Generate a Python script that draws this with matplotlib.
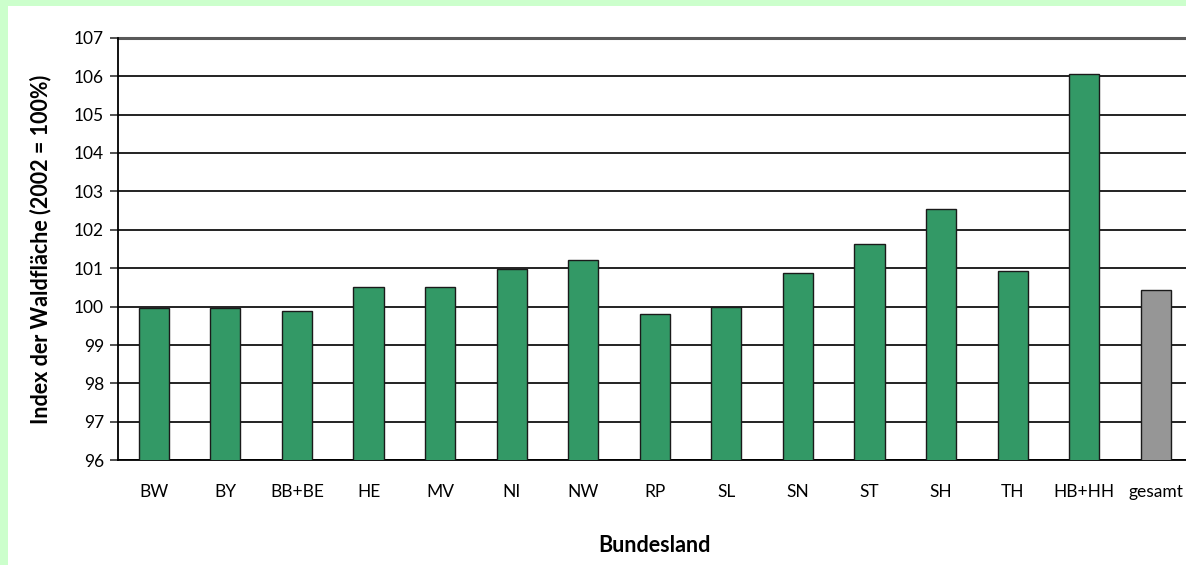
import matplotlib
matplotlib.use("Agg")
import matplotlib.pyplot as plt
from matplotlib.patches import Rectangle

categories = ["BW", "BY", "BB+BE", "HE", "MV", "NI", "NW", "RP", "SL",
              "SN", "ST", "SH", "TH", "HB+HH", "gesamt"]
values = [99.96, 99.96, 99.89, 100.52, 100.52, 100.99, 101.22, 99.82, 100.0,
          100.88, 101.62, 102.53, 100.92, 106.05, 100.43]
yticks = [96, 97, 98, 99, 100, 101, 102, 103, 104, 105, 106, 107]

plt.rcParams['font.family'] = ['Lato', 'DejaVu Sans']

fig = plt.figure(figsize=(11.86, 5.65), dpi=100)
fig.patch.set_facecolor("white")
green_bg = "#CCFFCC"
fig.patches.append(Rectangle((0, 1 - 6/565), 1, 6/565, transform=fig.transFigure,
                             facecolor=green_bg, edgecolor="none", zorder=0))
fig.patches.append(Rectangle((0, 0), 8/1186, 1, transform=fig.transFigure,
                             facecolor=green_bg, edgecolor="none", zorder=0))

ax = fig.add_axes([118/1186, 1 - 460.3/565, (1191.6 - 118)/1186, (460.3 - 37.7)/565])

colors = ["#339966"] * (len(categories) - 1) + ["#969696"]
x = list(range(len(categories)))
ax.bar(x, values, width=0.42, bottom=0, color=colors, edgecolor="#1a1a1a",
       linewidth=1.0, zorder=3)

ax.set_xlim(-0.5, len(categories) - 0.5)
ax.set_ylim(96, 107)
ax.set_yticks(yticks)
ax.set_yticklabels([str(t) for t in yticks], fontsize=12.5)
ax.set_xticks(x)
ax.set_xticklabels(categories, fontsize=12.5)
ax.tick_params(axis='x', length=0, pad=17)
ax.tick_params(axis='y', length=6, width=1.2, color="#333333", pad=4, direction='out')

ax.yaxis.grid(True, color="#111111", linewidth=1.3, zorder=1)
ax.set_axisbelow(True)

for s in ["right", "top"]:
    ax.spines[s].set_visible(False)
ax.spines["left"].set_color("black")
ax.spines["left"].set_linewidth(1.3)
ax.spines["bottom"].set_color("black")
ax.spines["bottom"].set_linewidth(1.3)
ax.axhline(107, color="#595959", linewidth=2.2, zorder=2, clip_on=False)

ax.set_xlabel("Bundesland", fontsize=15.5, fontweight="bold", labelpad=25)
ax.set_ylabel("Index der Waldfläche (2002 = 100%)", fontsize=15.5, fontweight="bold", labelpad=16)

fig.savefig("out.png", dpi=100, facecolor=fig.get_facecolor())
